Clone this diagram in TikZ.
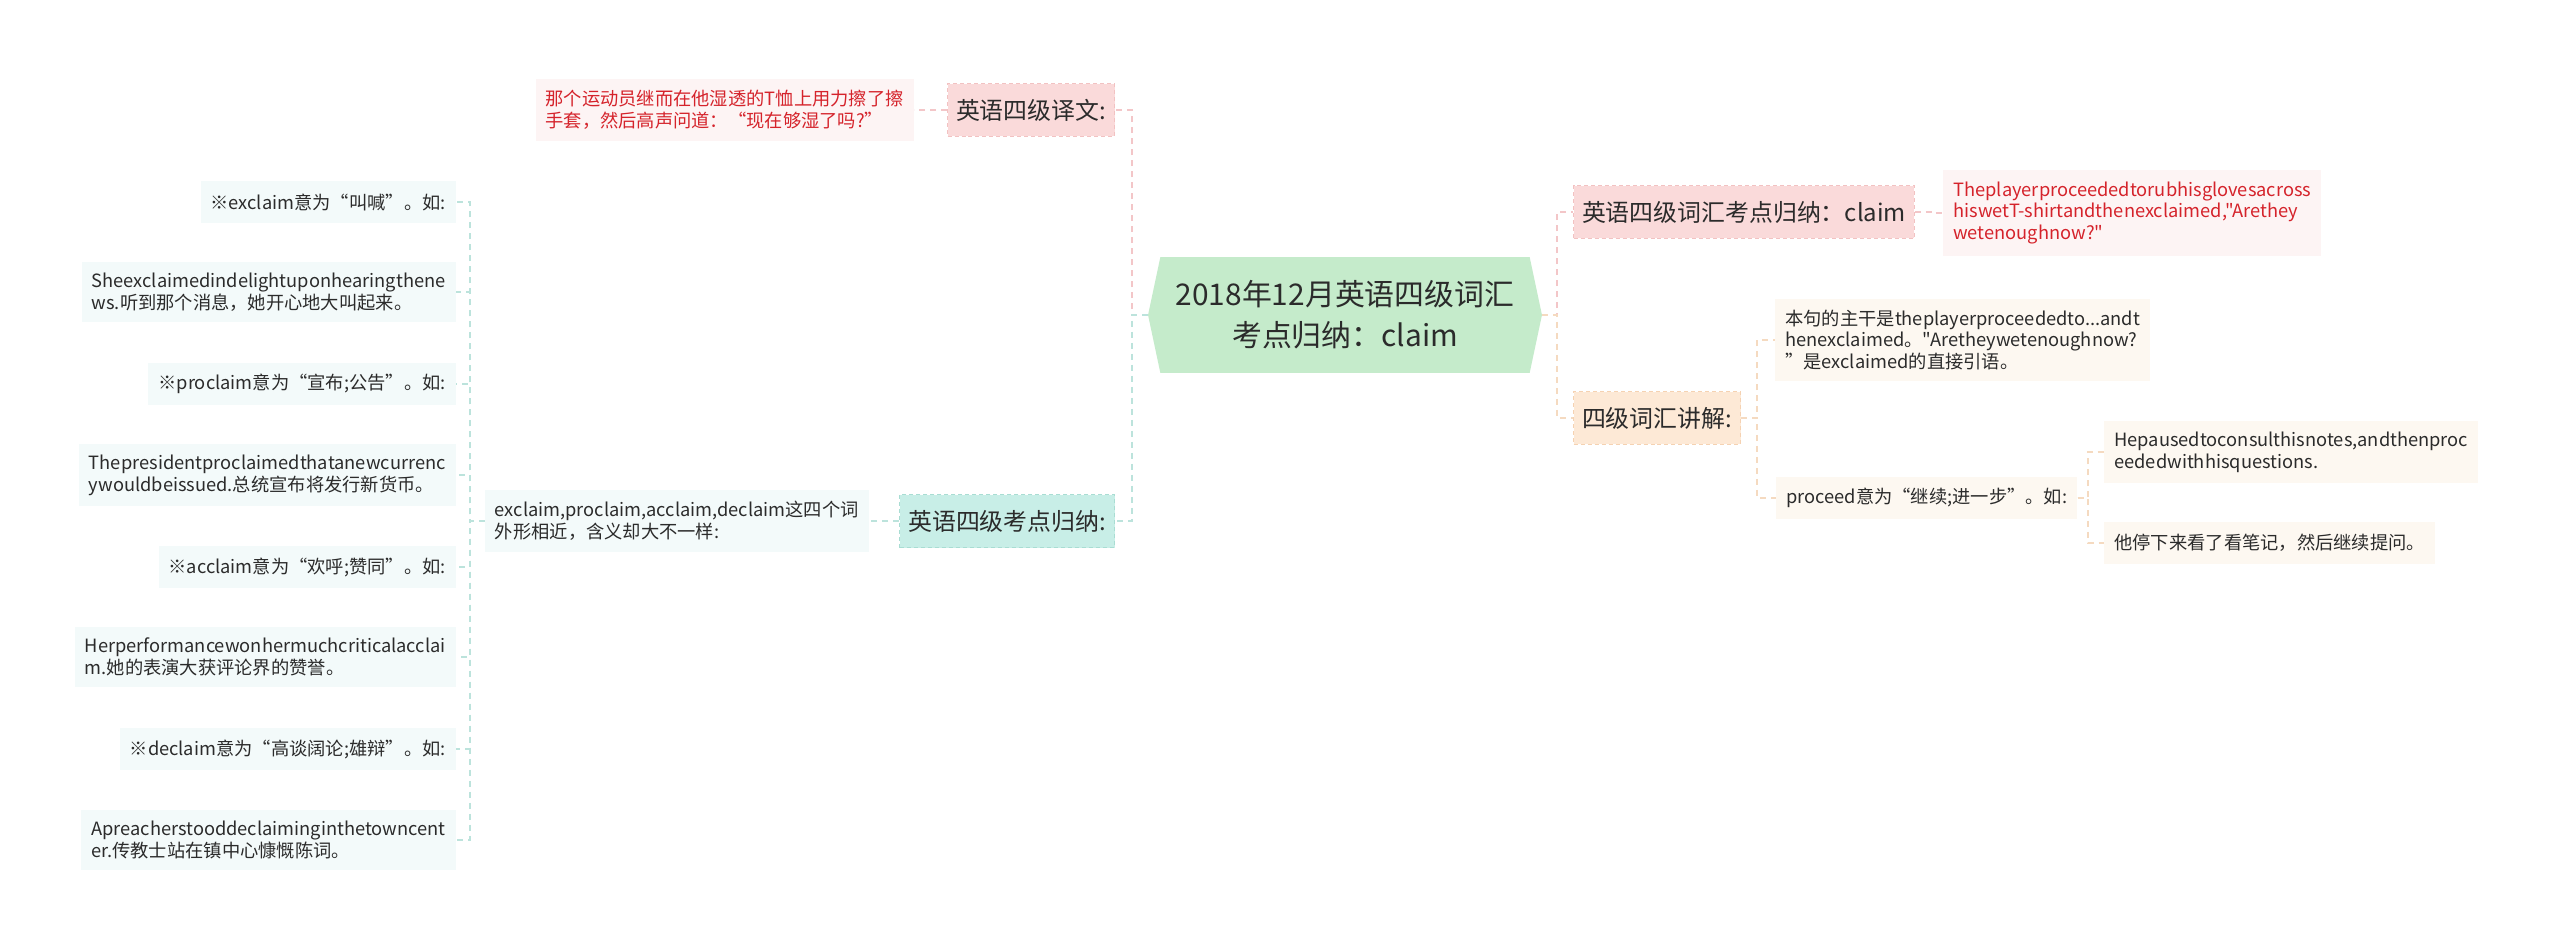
\documentclass[tikz,border=0pt]{standalone}
\usepackage{fontspec}
\newfontfamily\cjkfont{Noto Sans CJK SC}
\usetikzlibrary{shapes.symbols}

\definecolor{rootfill}{HTML}{C5EBCB}
\definecolor{pinkfill}{HTML}{FADADA}
\definecolor{pinkborder}{HTML}{F2C2C2}
\definecolor{tealfill}{HTML}{C8EEE7}
\definecolor{tealborder}{HTML}{A9DDD3}
\definecolor{peachfill}{HTML}{FDE9D6}
\definecolor{peachborder}{HTML}{F5D2B2}
\definecolor{redleaf}{HTML}{FDF4F4}
\definecolor{tealleaf}{HTML}{F3FAFA}
\definecolor{peachleaf}{HTML}{FDF8F1}
\definecolor{redtext}{HTML}{D5232B}
\definecolor{darktext}{HTML}{2B2B2B}
\definecolor{pinkline}{HTML}{F3C6C8}
\definecolor{tealline}{HTML}{BCE3DC}
\definecolor{peachline}{HTML}{F5DAC0}

\begin{document}
\begin{tikzpicture}[x=0.02cm,y=-0.02cm,
  conn/.style={dash pattern=on 0.12cm off 0.1cm,line width=0.04cm},
  elbow/.style={to path={-- ++(#1,0) |- (\tikztotarget)}},
  root/.style={shape=signal,signal to=west and east,signal pointer angle=156,fill=rootfill,text=darktext,
    minimum width=7.88cm,minimum height=2.32cm,align=center,font=\cjkfont\fontsize{17}{23.5}\selectfont},
  topic/.style={draw,dash pattern=on 0.08cm off 0.06cm,line width=0.02cm,minimum height=1.06cm,
    inner xsep=0.17cm,text=darktext,font=\cjkfont\fontsize{13.6}{17}\selectfont},
  leaf/.style={minimum height=0.84cm,inner xsep=0.2cm,inner ysep=0.22cm,align=left,text=darktext,
    font=\cjkfont\fontsize{10.4}{12.5}\selectfont}]
  \useasboundingbox[fill=white] (0,0) rectangle (2560,950);

  \node[root] (c) at (1345,315) {2018年12月英语四级词汇\\考点归纳：claim};

  % right side
  \node[topic,fill=pinkfill,draw=pinkborder,anchor=west] (vocab) at (1573,212) {英语四级词汇考点归纳：claim};
  \node[leaf,fill=redleaf,text=redtext,anchor=west] (vocabex) at (1943,213) {Theplayerproceededtorubhisglovesacross\\hiswetT-shirtandthenexclaimed,"Arethey\\wetenoughnow?"};
  \node[topic,fill=peachfill,draw=peachborder,anchor=west] (expl) at (1573,418) {四级词汇讲解:};
  \node[leaf,fill=peachleaf,anchor=west] (sent) at (1775,340) {本句的主干是theplayerproceededto...andt\\henexclaimed。"Aretheywetenoughnow?\\”是exclaimed的直接引语。};
  \node[leaf,fill=peachleaf,anchor=west] (proceed) at (1776,498) {proceed意为“继续;进一步”。如:};
  \node[leaf,fill=peachleaf,anchor=west] (paused) at (2104,452) {Hepausedtoconsulthisnotes,andthenproc\\eededwithhisquestions.};
  \node[leaf,fill=peachleaf,anchor=west] (pausedcn) at (2104,543) {他停下来看了看笔记，然后继续提问。};

  % left side
  \node[topic,fill=pinkfill,draw=pinkborder,anchor=east] (trans) at (1115,110) {英语四级译文:};
  \node[leaf,fill=redleaf,text=redtext,anchor=east] (transcn) at (914,110) {那个运动员继而在他湿透的T恤上用力擦了擦\\手套，然后高声问道：“现在够湿了吗?”};
  \node[topic,fill=tealfill,draw=tealborder,anchor=east] (points) at (1115,521) {英语四级考点归纳:};
  \node[leaf,fill=tealleaf,anchor=east] (four) at (869,521) {exclaim,proclaim,acclaim,declaim这四个词\\外形相近，含义却大不一样:};
  \node[leaf,fill=tealleaf,anchor=east] (ex1) at (456,202) {※exclaim意为“叫喊”。如:};
  \node[leaf,fill=tealleaf,anchor=east] (ex2) at (456,292) {Sheexclaimedindelightuponhearingthene\\ws.听到那个消息，她开心地大叫起来。};
  \node[leaf,fill=tealleaf,anchor=east] (ex3) at (456,384) {※proclaim意为“宣布;公告”。如:};
  \node[leaf,fill=tealleaf,anchor=east] (ex4) at (456,475) {Thepresidentproclaimedthatanewcurrenc\\ywouldbeissued.总统宣布将发行新货币。};
  \node[leaf,fill=tealleaf,anchor=east] (ex5) at (456,567) {※acclaim意为“欢呼;赞同”。如:};
  \node[leaf,fill=tealleaf,anchor=east] (ex6) at (456,657) {Herperformancewonhermuchcriticalacclai\\m.她的表演大获评论界的赞誉。};
  \node[leaf,fill=tealleaf,anchor=east] (ex7) at (456,749) {※declaim意为“高谈阔论;雄辩”。如:};
  \node[leaf,fill=tealleaf,anchor=east] (ex8) at (456,840) {Apreacherstooddeclaiminginthetowncent\\er.传教士站在镇中心慷慨陈词。};

  \path
  (c.east) edge[conn,pinkline,elbow=15] (vocab.west)
  (c.east) edge[conn,peachline,elbow=15] (expl.west)
  (vocab.east) edge[conn,pinkline,elbow=16] (vocabex.west)
  (expl.east) edge[conn,peachline,elbow=16] (sent.west)
  (expl.east) edge[conn,peachline,elbow=16] (proceed.west)
  (proceed.east) edge[conn,peachline,elbow=10] (paused.west)
  (proceed.east) edge[conn,peachline,elbow=10] (pausedcn.west)
  (c.west) edge[conn,pinkline,elbow=-16] (trans.east)
  (c.west) edge[conn,tealline,elbow=-16] (points.east)
  (trans.west) edge[conn,pinkline,elbow=-16] (transcn.east)
  (points.west) edge[conn,tealline,elbow=-16] (four.east);
  \foreach \n in {1,...,8}
    \path (four.west) edge[conn,tealline,elbow=-15] (ex\n.east);
\end{tikzpicture}
\end{document}
